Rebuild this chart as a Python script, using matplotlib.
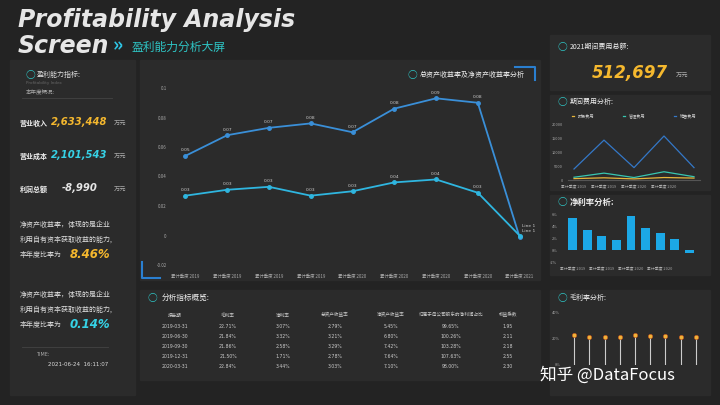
import matplotlib
matplotlib.use("Agg")
import matplotlib.pyplot as plt
from matplotlib.patches import Rectangle
import numpy as np

plt.rcParams['font.family'] = ['Noto Sans CJK SC']

quarters = ["累计季度 2019"]*4 + ["累计季度 2020"]*4 + ["累计季度 2021"]
roa_top = [0.054, 0.068, 0.073, 0.076, 0.070, 0.086, 0.093, 0.090, -0.001]
roe_low = [0.027, 0.031, 0.033, 0.027, 0.030, 0.036, 0.038, 0.029, 0.000]
top_labels = ["0.05", "0.07", "0.07", "0.08", "0.07", "0.08", "0.09", "0.08", "Line 1"]
low_labels = ["0.03", "0.03", "0.03", "0.03", "0.03", "0.04", "0.04", "0.03", "Line 1"]
y_ticks = [0.1, 0.08, 0.06, 0.04, 0.02, 0, -0.02]

exp_x = ["累计季度 2019", "累计季度 2019", "累计季度 2020", "累计季度 2020", "累计季度 2021"]
fin_exp = [500, 800, 400, 900, 700]
adm_exp = [1000, 2500, 900, 3000, 1200]
sal_exp = [4000, 14500, 4500, 16000, 4500]

net_margin = [0.055, 0.035, 0.024, 0.018, 0.059, 0.038, 0.029, 0.019, -0.004]
gross_margin = [0.227, 0.218, 0.219, 0.215, 0.228, 0.222, 0.220, 0.216, 0.212]

tbl_cols = ["报告期", "毛利率", "净利率", "总资产收益率", "净资产收益率", "归属于母公司股东的净利润占比", "权益乘数"]
tbl_rows = [
    ["2019-03-31", "22.71%", "3.07%", "2.79%", "5.45%", "99.65%", "1.95"],
    ["2019-06-30", "21.84%", "3.32%", "3.21%", "6.80%", "100.26%", "2.11"],
    ["2019-09-30", "21.86%", "2.58%", "3.29%", "7.42%", "103.28%", "2.18"],
    ["2019-12-31", "21.50%", "1.71%", "2.78%", "7.64%", "107.63%", "2.55"],
    ["2020-03-31", "22.84%", "3.44%", "3.03%", "7.10%", "98.00%", "2.30"],
]

BG = "#232323"
PANEL = "#2b2b2b"
fig = plt.figure(figsize=(7.2, 4.05), dpi=100, facecolor=BG)
W, H = 720, 405

def fx(x): return x / W
def fy(y): return 1 - y / H

def panel(x0, y0, x1, y1):
    fig.patches.append(Rectangle((fx(x0), fy(y1)), fx(x1 - x0), (y1 - y0) / H,
                                 transform=fig.transFigure, color=PANEL, zorder=-5))

def icon(x, y):
    fig.text(fx(x), fy(y), "○", color="#2ec4c4", fontsize=7, fontweight="bold", ha="center", va="center")

def mkax(rect):
    a = fig.add_axes(rect)
    a.set_zorder(3)
    a.set_facecolor("none")
    for s in a.spines.values():
        s.set_visible(False)
    return a

panel(10, 60, 135, 395)
panel(140, 60, 540, 280)
panel(140, 290, 540, 380)
panel(550, 35, 710, 90)
panel(550, 95, 710, 190)
panel(550, 195, 710, 275)
panel(550, 290, 710, 395)

fig.text(fx(18), fy(20), "Profitability Analysis", color="#e6e6e6", fontsize=17, fontweight="bold",
         style="italic", va="center", family="DejaVu Sans")
fig.text(fx(18), fy(46), "Screen", color="#e6e6e6", fontsize=17, fontweight="bold",
         style="italic", va="center", family="DejaVu Sans")
fig.text(fx(113), fy(46), "»", color="#2ec4e4", fontsize=14, fontweight="bold", va="center")
fig.text(fx(132), fy(47), "盈利能力分析大屏", color="#2ec4c4", fontsize=8.5, style="italic", va="center")

icon(30, 75)
fig.text(fx(37), fy(75), "盈利能力指标:", color="#dddddd", fontsize=5, va="center")
fig.text(fx(26), fy(83), "Profitability Index", color="#666666", fontsize=3, va="center", family="DejaVu Sans")
fig.text(fx(26), fy(92), "本年度概况:", color="#aaaaaa", fontsize=4, va="center")
fig.lines.append(plt.Line2D([fx(22), fx(112)], [fy(98), fy(98)], transform=fig.transFigure, color="#444", lw=0.6))
for yy, lab, val, col, xv in [(123, "营业收入", "2,633,448", "#f5b82e", 51), (156, "营业成本", "2,101,543", "#36d2e6", 51),
                              (189, "利润总额", "-8,990", "#e6e6e6", 62)]:
    fig.text(fx(20), fy(yy), lab, color="#eeeeee", fontsize=5, fontweight="bold", style="italic", va="center")
    fig.text(fx(xv), fy(yy - 1), val, color=col, fontsize=7.2, fontweight="bold",
             style="italic", va="center", family="DejaVu Sans")
    fig.text(fx(114), fy(yy + 1), "万元", color="#aaaaaa", fontsize=4.5, va="center")
for y0, val, col in [(225, "8.46%", "#f5b82e"), (295, "0.14%", "#36d2e6")]:
    fig.text(fx(20), fy(y0), "净资产收益率，体现的是企业", color="#dddddd", fontsize=5, va="center")
    fig.text(fx(20), fy(y0 + 15), "利用自有资本获取收益的能力,", color="#dddddd", fontsize=5, va="center")
    fig.text(fx(20), fy(y0 + 30), "本年度比率为", color="#dddddd", fontsize=5, va="center")
    fig.text(fx(70), fy(y0 + 30), val, color=col, fontsize=8.5, fontweight="bold", style="italic", va="center",
             family="DejaVu Sans")
fig.lines.append(plt.Line2D([fx(22), fx(108)], [fy(347), fy(347)], transform=fig.transFigure, color="#444", lw=0.6))
fig.text(fx(36), fy(355), "TIME:", color="#aaaaaa", fontsize=3.5, va="center", family="DejaVu Sans")
fig.text(fx(48), fy(364), "2021-06-24  16:11:07", color="#dddddd", fontsize=4, va="center", family="DejaVu Sans")

# Main line chart
ax = mkax([fx(175), fy(265), fx(530 - 175), (265 - 88) / H])
x = np.arange(len(quarters))
ax.plot(x, roa_top, color="#3a8fd8", lw=1.3, marker="o", ms=2.5)
ax.plot(x, roe_low, color="#2fb6e0", lw=1.3, marker="o", ms=2.5)
for i in range(len(x) - 1):
    ax.text(x[i], roa_top[i] + 0.003, top_labels[i], color="#cccccc", fontsize=3.2, ha="center", family="DejaVu Sans")
    ax.text(x[i], roe_low[i] + 0.003, low_labels[i], color="#cccccc", fontsize=3.2, ha="center", family="DejaVu Sans")
ax.text(x[-1] + 0.05, 0.0025, top_labels[-1], color="#cccccc", fontsize=3.2, family="DejaVu Sans")
ax.text(x[-1] + 0.05, 0.0055, low_labels[-1], color="#cccccc", fontsize=3.2, family="DejaVu Sans")
ax.set_ylim(-0.02, 0.1)
ax.set_yticks(y_ticks)
ax.set_yticklabels([str(t) for t in y_ticks])
ax.set_xlim(-0.25, len(x) - 0.75)
ax.set_xticks(x)
ax.set_xticklabels(quarters)
ax.tick_params(colors="#aaaaaa", labelsize=3.2, length=0, pad=6)
icon(412, 75)
fig.text(fx(420), fy(75), "总资产收益率及净资产收益率分析", color="#eeeeee", fontsize=5, va="center")
fig.lines.append(plt.Line2D([fx(515), fx(535), fx(535)], [fy(67), fy(67), fy(80)], transform=fig.transFigure, color="#2a7fd0", lw=1.5))
fig.lines.append(plt.Line2D([fx(142), fx(142), fx(160)], [fy(262), fy(278), fy(278)], transform=fig.transFigure, color="#2a7fd0", lw=1.5))

# Top-right total
icon(562, 47)
fig.text(fx(570), fy(47), "2021期间费用总额:", color="#eeeeee", fontsize=5, va="center")
fig.text(fx(592), fy(73), "512,697", color="#f5b82e", fontsize=12, fontweight="bold", style="italic", va="center",
         family="DejaVu Sans")
fig.text(fx(676), fy(76), "万元", color="#aaaaaa", fontsize=4.5, va="center")

# Expense chart
icon(562, 102)
fig.text(fx(570), fy(102), "期间费用分析:", color="#eeeeee", fontsize=5, va="center")
ax2 = mkax([fx(568), fy(180), fx(700 - 568), (180 - 125) / H])
ex = np.arange(len(exp_x))
ax2.plot(ex, fin_exp, color="#e8b53a", lw=0.9, label="财务费用")
ax2.plot(ex, adm_exp, color="#38c6b0", lw=0.9, label="管理费用")
ax2.plot(ex, sal_exp, color="#3478c8", lw=0.9, label="销售费用")
ax2.set_ylim(0, 20000)
ax2.set_yticks([0, 5000, 10000, 15000, 20000])
ax2.set_xticks(ex[:4])
ax2.set_xticklabels(exp_x[:4])
ax2.tick_params(colors="#aaaaaa", labelsize=2.8, length=0)
ax2.spines["bottom"].set_visible(True)
ax2.spines["bottom"].set_color("#555")
ax2.legend(loc="lower left", bbox_to_anchor=(0, 1.05, 1, 0.2), ncol=3, mode="expand", frameon=False,
           fontsize=3, labelcolor="#cccccc", handlelength=0.6)

# Net margin bars
icon(562, 202)
fig.text(fx(570), fy(202), "净利率分析:", color="#eeeeee", fontsize=6, fontweight="bold", va="center")
ax3 = mkax([fx(562), fy(262), fx(700 - 562), (262 - 212) / H])
bx = np.arange(len(net_margin))
ax3.bar(bx, net_margin, color="#1ca8e6", width=0.6)
ax3.set_ylim(-0.02, 0.065)
ax3.set_yticks([-0.02, 0, 0.02, 0.04, 0.06])
ax3.set_yticklabels(["-2%", "0%", "2%", "4%", "6%"])
ax3.set_xticks([0, 2, 4, 6])
ax3.set_xticklabels(["累计季度 2019", "累计季度 2019", "累计季度 2020", "累计季度 2020"])
ax3.tick_params(colors="#aaaaaa", labelsize=2.8, length=0)

# Gross margin lollipops
icon(562, 298)
fig.text(fx(570), fy(298), "毛利率分析:", color="#eeeeee", fontsize=5, va="center")
ax4 = mkax([fx(565), fy(365), fx(705 - 565), (365 - 313) / H])
gx = np.arange(len(gross_margin))
ax4.vlines(gx, 0, gross_margin, color="#cccccc", lw=0.8)
ax4.scatter(gx, gross_margin, color="#f0b43a", s=10, edgecolor="#c0501a", lw=0.4, zorder=3)
ax4.set_ylim(0, 0.4)
ax4.set_xlim(-0.6, len(gx) - 0.4)
ax4.set_yticks([0, 0.2, 0.4])
ax4.set_yticklabels(["0%", "20%", "40%"])
ax4.set_xticks([])
ax4.tick_params(colors="#aaaaaa", labelsize=2.8, length=0)

# Table
icon(152, 298)
fig.text(fx(162), fy(298), "分析指标概览:", color="#eeeeee", fontsize=5.5, va="center")
col_x = [175, 228, 283, 335, 391, 451, 508]
for cx, c in zip(col_x, tbl_cols):
    fig.text(fx(cx), fy(315), c, color="#cccccc", fontsize=3.3, ha="center", va="center")
for r, row in enumerate(tbl_rows):
    for cx, v in zip(col_x, row):
        fig.text(fx(cx), fy(327 + r * 10), v, color="#cccccc", fontsize=3.3, ha="center", va="center",
                 family="DejaVu Sans")

fig.text(fx(540), fy(375), "知乎 @DataFocus", color="#ffffff", fontsize=12, va="center", zorder=10)

fig.savefig("out.png", dpi=100, facecolor=BG)
